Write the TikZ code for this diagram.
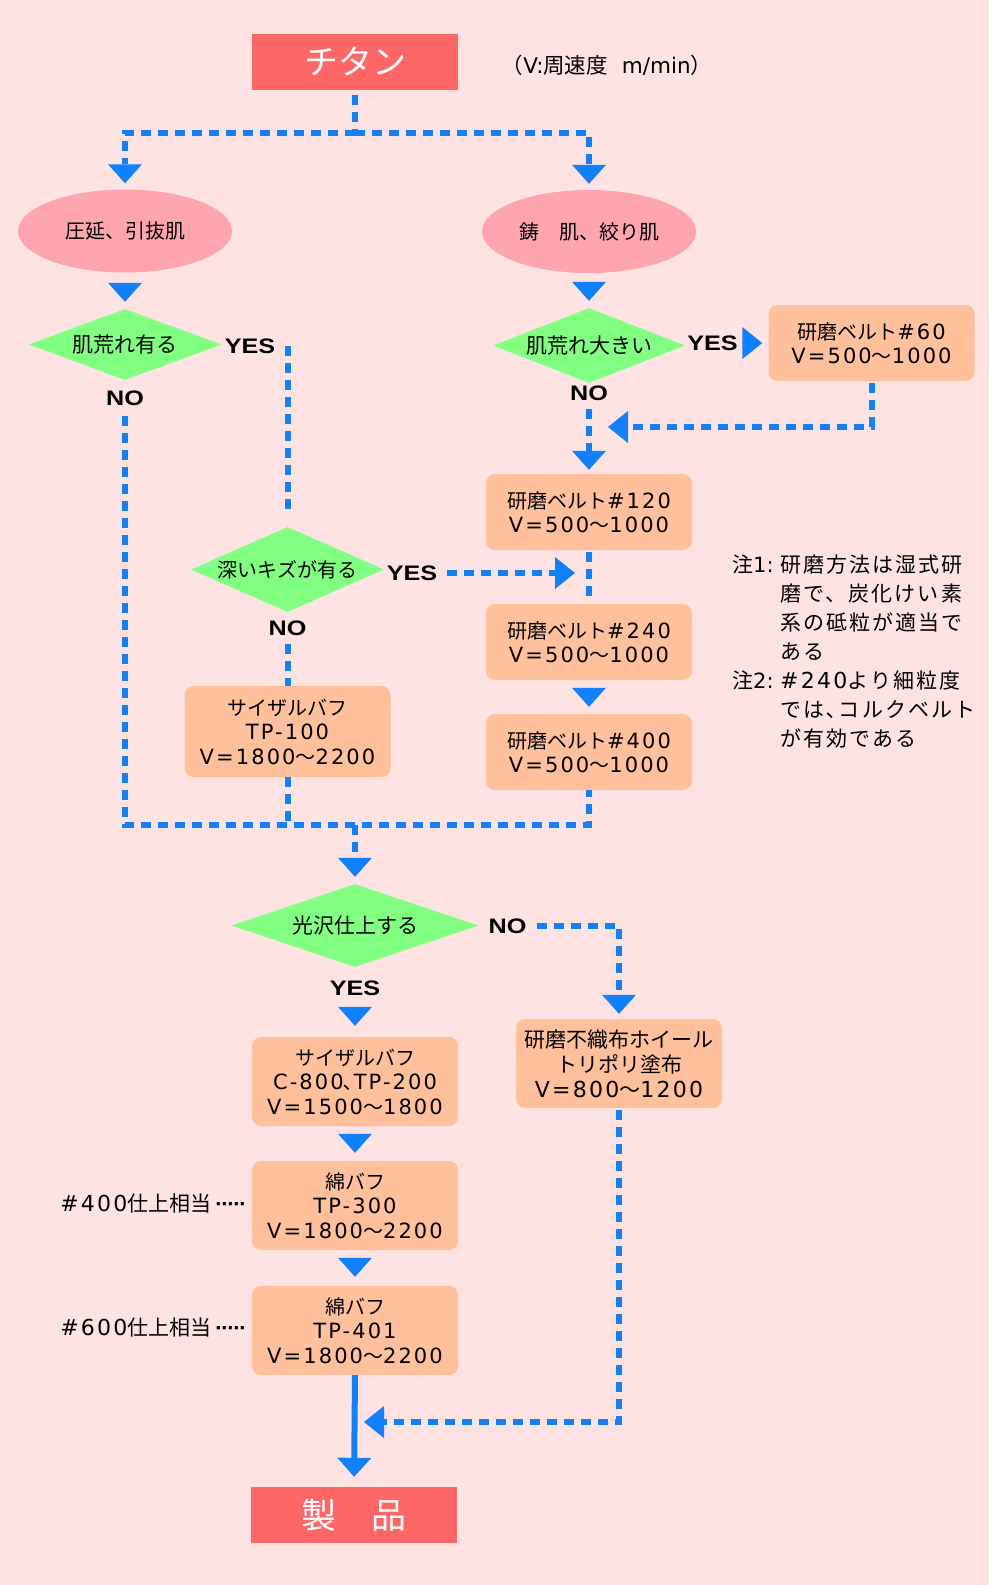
\documentclass[tikz,border=0pt]{standalone}
\usepackage{fontspec}
\usepackage{graphicx}
\setmainfont{Noto Sans CJK JP}
\newfontfamily\lafont{DejaVu Sans}[Scale=1.05, LetterSpace=10]
\newfontfamily\lafontn{DejaVu Sans}
\newfontfamily\ynfont{Liberation Sans}
\usetikzlibrary{shapes.geometric,arrows.meta,calc}
\definecolor{bgc}{HTML}{FFE3E3}
\definecolor{myred}{HTML}{FF6666}
\definecolor{mypink}{HTML}{FFA5AF}
\definecolor{mygreen}{HTML}{80FF80}
\definecolor{mypeach}{HTML}{FFC09B}
\definecolor{myblue}{HTML}{0F80FF}
\newcommand\lt[1]{{\lafont #1}}
\newcommand\yn[1]{\scalebox{1.2}[1]{\fontsize{21}{21}\ynfont\bfseries #1}}
\newcommand\leaderdots{{\fontsize{22}{22}\ynfont\bfseries\addfontfeature{LetterSpace=-6}·····}}
\begin{document}
\begin{tikzpicture}[x=1pt, y=-1pt,
  dl/.style={draw=myblue, line width=6pt, dash pattern=on 10pt off 7pt},
  tonly/.style={draw=myblue, line width=1pt},
  tipD/.style={-{Triangle[length=19pt,width=34pt,line width=0pt]}},
  tipH/.style={-{Triangle[length=20pt,width=32pt,line width=0pt]}},
  redbox/.style={rectangle, fill=myred, minimum width=206pt, minimum height=56pt, inner sep=0pt, text=white, font=\fontsize{34}{34}\selectfont},
  ell/.style={ellipse, fill=mypink, minimum width=214pt, minimum height=83pt, inner sep=0pt, font=\fontsize{20}{24}\selectfont},
  dia/.style={diamond, fill=mygreen, aspect=2.27, inner sep=0pt, font=\fontsize{21}{24}\selectfont},
  box/.style={rectangle, rounded corners=9pt, fill=mypeach, minimum width=206pt, inner sep=0pt, align=center, font=\fontsize{20}{24.5}\selectfont},
  lbl/.style={inner sep=0pt}
]
\fill[bgc] (0,0) rectangle (989,1585);
\useasboundingbox (0,0) rectangle (989,1585);

% nodes
\node[redbox] (T) at (355,61.5) {チタン};
\node[lbl, font=\fontsize{21.5}{24}\selectfont] (U) at (607,65) {（{\lafontn V:}周速度\hspace{14pt}{\lafontn m/min}）};
\node[ell] (E1) at (125,231) {圧延、引抜肌};
\node[ell] (E2) at (589,231.5) {鋳　肌、絞り肌};
\node[dia, minimum width=193pt, minimum height=71pt] (D1) at (125,344.5) {肌荒れ有る};
\node[dia, minimum width=192pt, minimum height=71pt] (D2) at (589,345.5) {肌荒れ大きい};
\node[box, minimum height=76pt] (B60) at (871.5,343) {研磨ベルト\lt{\#60}\\\lt{V=500}～\lt{1000}};
\node[box, minimum height=76pt] (B120) at (589,512) {研磨ベルト\lt{\#120}\\\lt{V=500}～\lt{1000}};
\node[dia, minimum width=193pt, minimum height=85pt, font=\fontsize{20}{24}\selectfont] (D3) at (287.5,569.5) {深いキズが有る};
\node[box, minimum height=76pt] (B240) at (589,642) {研磨ベルト\lt{\#240}\\\lt{V=500}～\lt{1000}};
\node[box, minimum height=76pt] (B400) at (589,752) {研磨ベルト\lt{\#400}\\\lt{V=500}～\lt{1000}};
\node[box, minimum height=91pt] (S100) at (287.5,731.5) {サイザルバフ\\\lt{TP-100}\\\lt{V=1800}～\lt{2200}};
\node[dia, minimum width=247pt, minimum height=83pt] (D4) at (355,925.5) {光沢仕上する};
\node[box, minimum height=89pt, font=\fontsize{21}{25}\selectfont] (NW) at (619,1063.5) {研磨不織布ホイール\\トリポリ塗布\\\lt{V=800}～\lt{1200}};
\node[box, minimum height=89pt] (S2) at (355,1081.5) {サイザルバフ\\\lt{C-800}､\lt{TP-200}\\\lt{V=1500}～\lt{1800}};
\node[box, minimum height=89pt] (M300) at (355,1205.5) {綿バフ\\\lt{TP-300}\\\lt{V=1800}～\lt{2200}};
\node[box, minimum height=89pt] (M401) at (355,1330.5) {綿バフ\\\lt{TP-401}\\\lt{V=1800}～\lt{2200}};
\node[redbox, font=\fontsize{35}{35}\selectfont] (P) at (354,1515) {製　品};

% labels
\node[lbl] (YES1) at (250,346) {\yn{YES}};
\node[lbl] (NO1) at (125,398) {\yn{NO}};
\node[lbl] (YES2) at (712.5,343) {\yn{YES}};
\node[lbl] (NO2) at (589,393) {\yn{NO}};
\node[lbl] (YES3) at (412,573) {\yn{YES}};
\node[lbl] (NO3) at (287.5,628) {\yn{NO}};
\node[lbl] (NO4) at (507.5,926) {\yn{NO}};
\node[lbl] (YES4) at (355,988) {\yn{YES}};
\node[lbl, anchor=east, font=\fontsize{21}{24}\selectfont] (L400) at (247,1204) {\lt{\#400}仕上相当\hspace{4pt}\leaderdots};
\node[lbl, anchor=east, font=\fontsize{21}{24}\selectfont] (L600) at (247,1328) {\lt{\#600}仕上相当\hspace{4pt}\leaderdots};
\node[lbl, anchor=north west, align=left, font=\fontsize{21}{29}\selectfont\addfontfeature{LetterSpace=10}] (N) at (732,555) {%
\makebox[48pt][l]{注{\lafontn 1:}}研磨方法は湿式研\\
\hspace*{48pt}磨で、炭化けい素\\
\hspace*{48pt}系の砥粒が適当で\\
\hspace*{48pt}ある\\
\makebox[48pt][l]{注{\lafontn 2:}}\lt{\#240}より細粒度\\
\hspace*{48pt}では､コルクベルト\\
\hspace*{48pt}が有効である};

% connectors
\coordinate (j1) at (355,133);
\coordinate (j2) at (355,825);
\coordinate (j3) at (355,1422);
\coordinate (m1) at (589,427);
\draw[dl, shorten <=5pt] (T.south) -- (j1);
\draw[dl, tipD, shorten >=6pt] (j1) -| (E1.north);
\draw[dl, tipD, shorten >=6pt] (j1) -| (E2.north);
\draw[tonly, tipD, shorten <=10pt, shorten >=7pt] (E1.south) -- (D1.north);
\draw[tonly, tipD, shorten <=10pt, shorten >=7pt] (E2.south) -- (D2.north);
\draw[dl, shorten >=12pt] (D3.north |- YES1.east) -- (D3.north);
\draw[tonly, tipH, shorten <=5pt, shorten >=6pt] (YES2.east) -- (YES2.east -| B60.west);
\draw[dl, tipH, shorten <=2pt, shorten >=19pt] (B60.south) |- (m1);
\draw[dl, tipD, shorten <=8pt, shorten >=4pt] (NO2.south) -- (B120.north);
\draw[dl, shorten <=2pt, shorten >=2pt] (B120.south) -- (B240.north);
\draw[dl, tipH, shorten <=10pt, shorten >=14pt] (YES3.east) -- (YES3.east -| B120.south);
\draw[dl, shorten <=8pt] (NO3.south) -- (S100.north);
\draw[tonly, tipD, shorten <=8pt, shorten >=7pt] (B240.south) -- (B400.north);
\draw[dl, shorten <=10pt] (NO1.south) |- (j2) -| (B400.south);
\draw[dl] (S100.south) -- (S100.south |- j2);
\draw[dl, tipD, shorten >=7pt] (j2) -- (D4.north);
\draw[dl, tipD, shorten <=10pt, shorten >=5pt] (NO4.east) -| (NW.north);
\draw[tonly, tipD, shorten <=19pt, shorten >=11pt] (YES4.center) -- (YES4.center |- S2.north);
\draw[tonly, tipD, shorten <=8pt, shorten >=8pt] (S2.south) -- (M300.north);
\draw[tonly, tipD, shorten <=8pt, shorten >=9pt] (M300.south) -- (M401.north);
\draw[draw=myblue, line width=6pt, tipD, shorten >=10pt] (M401.south) -- (P.north);
\draw[dl, tipH, shorten <=2pt, shorten >=9pt] (NW.south) |- (j3);
\end{tikzpicture}
\end{document}
